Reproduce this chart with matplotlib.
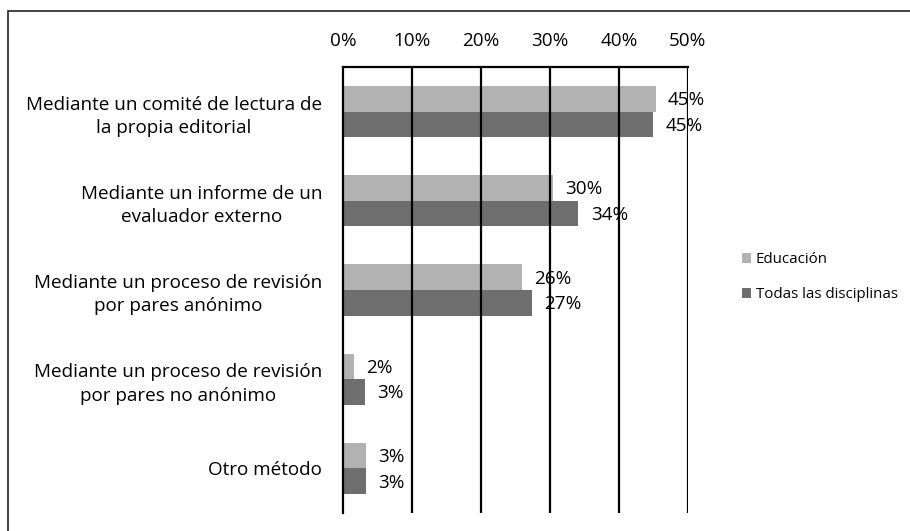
import matplotlib.pyplot as plt
from matplotlib.patches import Rectangle

plt.rcParams['font.family'] = ['Open Sans', 'DejaVu Sans']

categories = ["Mediante un comité de lectura de\nla propia editorial",
              "Mediante un informe de un\nevaluador externo",
              "Mediante un proceso de revisión\npor pares anónimo",
              "Mediante un proceso de revisión\npor pares no anónimo",
              "Otro método"]
educacion = [45.3, 30.4, 25.9, 1.6, 3.3]
todas = [44.9, 34.1, 27.4, 3.2, 3.3]
educacion_labels = ["45%", "30%", "26%", "2%", "3%"]
todas_labels = ["45%", "34%", "27%", "3%", "3%"]
xticks = [0, 10, 20, 30, 40, 50]

light = '#b2b2b2'
dark = '#6e6e6e'
fs = 13.6

fig = plt.figure(figsize=(9.1, 5.31), dpi=100)
ax = fig.add_axes([343 / 910, 1 - 513 / 531, 345 / 910, 446 / 531])

h = 0.286
y = list(range(len(categories)))
b1 = ax.barh([v - h / 2 for v in y], educacion, height=h, color=light, label='Educación', zorder=1)
b2 = ax.barh([v + h / 2 for v in y], todas, height=h, color=dark, label='Todas las disciplinas', zorder=1)

for bars, labels in ((b1, educacion_labels), (b2, todas_labels)):
    for rect, txt in zip(bars, labels):
        ax.annotate(txt, (rect.get_width(), rect.get_y() + rect.get_height() / 2),
                    xytext=(9, -1), textcoords='offset points',
                    ha='left', va='center', fontsize=fs, zorder=5)

ax.set_xlim(0, 50)
ax.set_ylim(len(categories) - 0.5, -0.5)
ax.set_xticks(xticks)
ax.set_xticklabels([f"{t}%" for t in xticks])
ax.xaxis.tick_top()
ax.set_yticks(y)
ax.set_yticklabels(categories, ha='right', multialignment='center')
for lab in ax.get_yticklabels():
    lab.set_linespacing(1.38)
ax.tick_params(axis='x', length=0, pad=12, labelsize=fs)
ax.tick_params(axis='y', length=0, pad=15, labelsize=fs)
for t in xticks[1:]:
    ax.axvline(t, color='black', lw=1.6, zorder=2)
ax.grid(False)
for s in ('right', 'bottom'):
    ax.spines[s].set_visible(False)
for s in ('top', 'left'):
    ax.spines[s].set_linewidth(1.6)
    ax.spines[s].set_zorder(3)

fig.legend(handles=[b1, b2], loc='center left', bbox_to_anchor=(728 / 910, 1 - 277 / 531),
           frameon=False, fontsize=10.8, handlelength=0.65, handleheight=0.65,
           handletextpad=0.3, labelspacing=1.35)

fig.patches.append(Rectangle((8 / 910, -0.05), 1.1, 1.05 - 11 / 531,
                             transform=fig.transFigure, fill=False,
                             edgecolor='#222222', lw=1.2))

fig.savefig("out.png", dpi=100)
